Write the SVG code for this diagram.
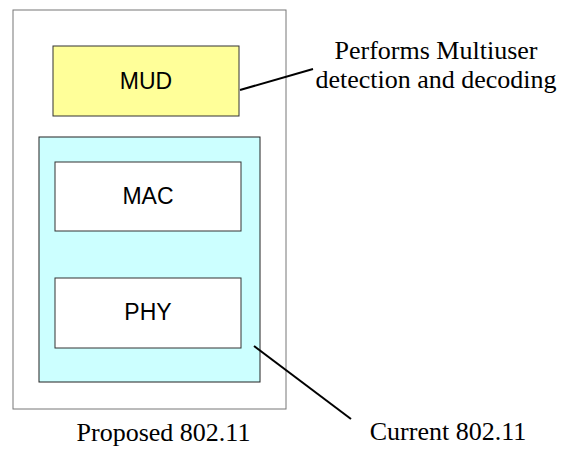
<svg xmlns="http://www.w3.org/2000/svg" width="564" height="450" viewBox="0 0 564 450">
<style>
.box{stroke:#333;stroke-width:1}
.lbl{font-family:"Liberation Sans",Arial,sans-serif;font-size:23px;fill:#000;text-anchor:middle}
.note{font-family:"Liberation Serif","Times New Roman",serif;font-size:26px;fill:#000}
.conn{stroke:#000;stroke-width:2;fill:none}
</style>
<rect width="564" height="450" fill="#fff"/>
<g id="proposed">
<rect x="13" y="10" width="273" height="399" fill="#fff" stroke="#777" stroke-width="1"/>
<text class="note" x="163.5" y="441" text-anchor="middle">Proposed 802.11</text>
</g>
<g id="mud">
<rect class="box" x="53" y="46" width="186" height="70" fill="#ffff99"/>
<text class="lbl" x="146" y="89">MUD</text>
</g>
<g id="current">
<rect x="39" y="137" width="221" height="245" fill="#ccffff" stroke="#222" stroke-width="1"/>
</g>
<g id="mac">
<rect class="box" x="55" y="162" width="186" height="69" fill="#fff"/>
<text class="lbl" x="148" y="204">MAC</text>
</g>
<g id="phy">
<rect class="box" x="55" y="278" width="186" height="70" fill="#fff"/>
<text class="lbl" x="148" y="320">PHY</text>
</g>
<g id="mud-note">
<text class="note" x="436" y="59" text-anchor="middle">Performs Multiuser</text>
<text class="note" x="436" y="88" text-anchor="middle">detection and decoding</text>
</g>
<g id="current-note">
<text class="note" x="448" y="440" text-anchor="middle">Current 802.11</text>
</g>
<g id="connectors">
<line class="conn" x1="240" y1="90" x2="313" y2="69"/>
<line class="conn" x1="254" y1="346" x2="351" y2="419"/>
</g>
</svg>
